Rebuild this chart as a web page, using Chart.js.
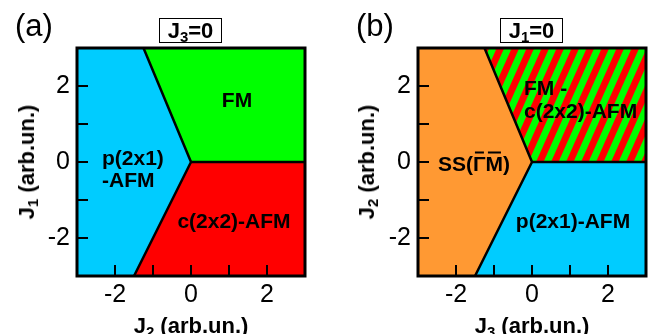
<!DOCTYPE html>
<html><head><meta charset="utf-8">
<script src="https://cdn.jsdelivr.net/npm/chart.js@4.4.1/dist/chart.umd.min.js"></script>
<style>
html,body{margin:0;padding:0;background:#fff;}
#wrap{position:relative;width:654px;height:334px;overflow:hidden;font-family:"Liberation Sans",Arial,sans-serif;color:#000;}
canvas{position:absolute;top:0;}
.t{position:absolute;white-space:nowrap;line-height:1;}
.c{transform:translate(-50%,-50%);}
.l{transform:translate(0,-50%);}
.r{font-size:21px;font-weight:bold;}
.ax{font-size:22px;font-weight:bold;}
.rot{transform:translate(-50%,-50%) rotate(-90deg);}
.pl{font-size:31px;}
.box{position:absolute;box-sizing:border-box;border:1px solid #000;background:#fff;height:25px;width:63px;top:18px;
  text-align:center;font-size:22px;font-weight:bold;line-height:22px;padding-top:1px;}
sub{font-size:0.68em;vertical-align:-0.28em;line-height:0;}
.ov{display:inline-block;position:relative;}
.ov::before{content:"";position:absolute;left:2px;right:2px;top:-1px;height:2px;background:#000;}
</style></head>
<body>
<div id="wrap">
  <canvas id="ca" width="327" height="334" style="left:0"></canvas>
  <canvas id="cb" width="327" height="334" style="left:327px"></canvas>

  <div class="t pl l" style="left:15px;top:25px">(a)</div>
  <div class="box" style="left:159px"><span>J<sub>3</sub>=0</span></div>
  <div class="t ax c" style="left:191px;top:326px">J<sub>2</sub> (arb.un.)</div>
  <div class="t ax rot" style="left:27px;top:162px">J<sub>1</sub> (arb.un.)</div>
  <div class="t r c" style="left:237px;top:99px">FM</div>
  <div class="t r l" style="left:102px;top:157px">p(2x1)</div>
  <div class="t r l" style="left:102px;top:179px">-AFM</div>
  <div class="t r c" style="left:234px;top:220px">c(2x2)-AFM</div>

  <div class="t pl l" style="left:356px;top:25px">(b)</div>
  <div class="box" style="left:500px"><span>J<sub>1</sub>=0</span></div>
  <div class="t ax c" style="left:532px;top:326px">J<sub>3</sub> (arb.un.)</div>
  <div class="t ax rot" style="left:367px;top:162px">J<sub>2</sub> (arb.un.)</div>
  <div class="t r l" style="left:524px;top:87px">FM -</div>
  <div class="t r l" style="left:524px;top:110px">c(2x2)-AFM</div>
  <div class="t r c" style="left:474px;top:163px">SS(<span class="ov">Γ</span><span class="ov">M</span>)</div>
  <div class="t r c" style="left:573px;top:220px">p(2x1)-AFM</div>
</div>
<script>
// ---- data ----
const xTickValues = [-2, 0, 2];
const yTickValues = [-2, 0, 2];
const minorTickValues = [-2, -1, 0, 1, 2];
const axisMin = -3, axisMax = 3;

// phase regions (same topology in both panels)
const regionLeft = [[-3, 3], [-1.25, 3], [0, 0], [-1.5, -3], [-3, -3]];
const regionUpperRight = [[-1.25, 3], [3, 3], [3, 0], [0, 0]];
const regionLowerRight = [[0, 0], [3, 0], [3, -3], [-1.5, -3]];
// phase boundaries
const boundarySlanted = [[-1.25, 3], [0, 0], [-1.5, -3]];
const boundaryHorizontal = [[0, 0], [3, 0]];

const BLUE = '#00ccff', GREEN = '#00ff00', RED = '#ff0000', ORANGE = '#ff9933';

const toXY = a => a.map(p => ({x: p[0], y: p[1]}));

const phasePlugin = {
  id: 'phase',
  beforeDatasetsDraw(chart) {
    const ctx = chart.ctx, ca = chart.chartArea;
    ctx.save();
    ctx.beginPath(); ctx.rect(ca.left, ca.top, ca.right - ca.left, ca.bottom - ca.top); ctx.clip();
    chart.data.datasets.forEach((ds, i) => {
      if (!ds.area) return;
      const pts = chart.getDatasetMeta(i).data;
      ctx.beginPath();
      pts.forEach((p, j) => j ? ctx.lineTo(p.x, p.y) : ctx.moveTo(p.x, p.y));
      ctx.closePath();
      ctx.fillStyle = ds.area; ctx.fill();
      if (ds.stripe) {
        ctx.save(); ctx.clip();
        const period = 15, ang = 66 * Math.PI / 180, h = ca.bottom - ca.top, dx = h / Math.tan(ang);
        ctx.strokeStyle = ds.stripe; ctx.lineWidth = period * Math.sin(ang) / 2;
        for (let x = ca.left - dx - period; x < ca.right + period; x += period) {
          ctx.beginPath(); ctx.moveTo(x, ca.bottom); ctx.lineTo(x + dx, ca.top); ctx.stroke();
        }
        ctx.restore();
      }
    });
    ctx.restore();
  },
  afterDatasetsDraw(chart) {
    const ctx = chart.ctx, ca = chart.chartArea, xs = chart.scales.x, ys = chart.scales.y;
    ctx.save(); ctx.strokeStyle = '#000'; ctx.lineWidth = 2;
    minorTickValues.forEach(v => {
      const px = xs.getPixelForValue(v);
      ctx.beginPath(); ctx.moveTo(px, ca.bottom); ctx.lineTo(px, ca.bottom - 11); ctx.stroke();
      const py = ys.getPixelForValue(v);
      ctx.beginPath(); ctx.moveTo(ca.left, py); ctx.lineTo(ca.left + 11, py); ctx.stroke();
    });
    ctx.lineWidth = 3;
    ctx.strokeRect(ca.left, ca.top, ca.right - ca.left, ca.bottom - ca.top);
    ctx.restore();
  }
};

function makeChart(id, colors, yWidth, rightPad) {
  const datasets = [
    {data: toXY(regionLeft), area: colors[0], pointRadius: 0},
    {data: toXY(regionUpperRight), area: colors[1], stripe: colors[2], pointRadius: 0},
    {data: toXY(regionLowerRight), area: colors[3], pointRadius: 0},
    {data: toXY(boundarySlanted), showLine: true, borderColor: '#000', borderWidth: 2.5, pointRadius: 0, fill: false},
    {data: toXY(boundaryHorizontal), showLine: true, borderColor: '#000', borderWidth: 2.5, pointRadius: 0, fill: false}
  ];
  const tickFont = {family: 'Liberation Sans', size: 25};
  return new Chart(document.getElementById(id), {
    type: 'scatter',
    data: {datasets},
    options: {
      responsive: false, animation: false, devicePixelRatio: 1,
      layout: {padding: {left: 0, right: rightPad, top: 48, bottom: 0}},
      plugins: {legend: {display: false}, tooltip: {enabled: false}},
      events: [],
      scales: {
        x: {type: 'linear', min: axisMin, max: axisMax,
          grid: {display: false, drawTicks: false}, border: {display: false},
          ticks: {font: tickFont, color: '#000', padding: 4, callback: v => String(v)},
          afterBuildTicks: s => { s.ticks = xTickValues.map(v => ({value: v})); },
          afterFit: s => { s.height = 58; }},
        y: {type: 'linear', min: axisMin, max: axisMax,
          grid: {display: false, drawTicks: false}, border: {display: false},
          ticks: {font: tickFont, color: '#000', padding: 7, callback: v => String(v)},
          afterBuildTicks: s => { s.ticks = yTickValues.map(v => ({value: v})); },
          afterFit: s => { s.width = yWidth; }}
      }
    },
    plugins: [phasePlugin]
  });
}

makeChart('ca', [BLUE, GREEN, null, RED], 77, 22);
makeChart('cb', [ORANGE, RED, GREEN, BLUE], 91, 8);
</script>
</body></html>
